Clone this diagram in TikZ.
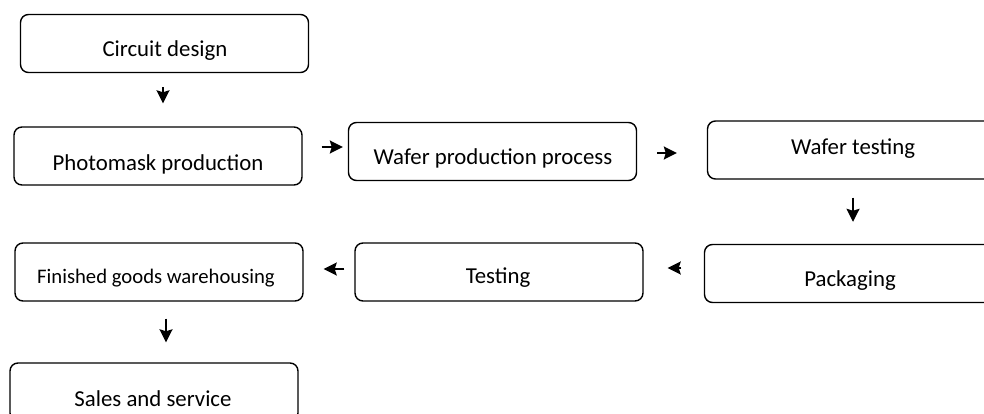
\documentclass[tikz,border=0pt]{standalone}
\usepackage{fontspec}
\setmainfont{Carlito}
\usetikzlibrary{calc,arrows.meta}
\tikzset{
  box/.style={draw=black, line width=1.4pt, rounded corners=8pt, minimum width=288pt, minimum height=58pt, inner sep=0pt},
  lbl/.style={inner sep=0pt, font=\fontsize{22.8}{26}\selectfont, text=black},
  arr/.style={line width=2pt, -{Stealth[length=13pt,width=13pt,inset=2pt]}}
}
\begin{document}
\begin{tikzpicture}[x=1pt,y=-1pt]
\useasboundingbox (0,0) rectangle (984,414);
\clip (0,0) rectangle (984,414);
% boxes
\node[box] (circ) at (164.5,43.5) {};
\node[box] (photo) at (158,156) {};
\node[box] (wprod) at (492.5,151.5) {};
\node[box] (wtest) at (851.5,150) {};
\node[box] (fin) at (159,272) {};
\node[box] (test) at (499,272) {};
\node[box] (pack) at (848.5,273.5) {};
\node[box] (sales) at (154,392) {};
% labels
\node[lbl] (circ-t) at (165,51) {Circuit design};
\node[lbl] (photo-t) at (158,164) {Photomask production};
\node[lbl] (wprod-t) at (493,158) {Wafer production process};
\node[lbl] (wtest-t) at (853,149) {Wafer testing};
\node[lbl, font=\fontsize{20.7}{24}\selectfont] (fin-t) at (156,278) {Finished goods warehousing};
\node[lbl] (test-t) at (498,278) {Testing};
\node[lbl] (pack-t) at (850,281) {Packaging};
\node[lbl] (sales-t) at (153,399) {Sales and service};
% arrows
\draw[arr] ($(circ.south)+(-1.5,14)$) -- ($(photo.north)+(5,-23)$);
\draw[arr] ($(photo.east)+(19,-9)$) -- ($(wprod.west)+(-5,-4.5)$);
\draw[arr] ($(wprod.east)+(20,1.5)$) -- ($(wtest.west)+(-30,3)$);
\draw[arr] ($(wtest.south)+(1.5,18)$) -- ($(pack.north)+(4.5,-22)$);
\draw[arr] ($(pack.west)+(-22.5,-5.5)$) -- ($(test.east)+(24,-4)$);
\draw[arr] ($(test.west)+(-10,-3)$) -- ($(fin.east)+(20,-3)$);
\draw[arr] ($(fin.south)+(7,17)$) -- ($(sales.north)+(12,-20)$);
\end{tikzpicture}
\end{document}
